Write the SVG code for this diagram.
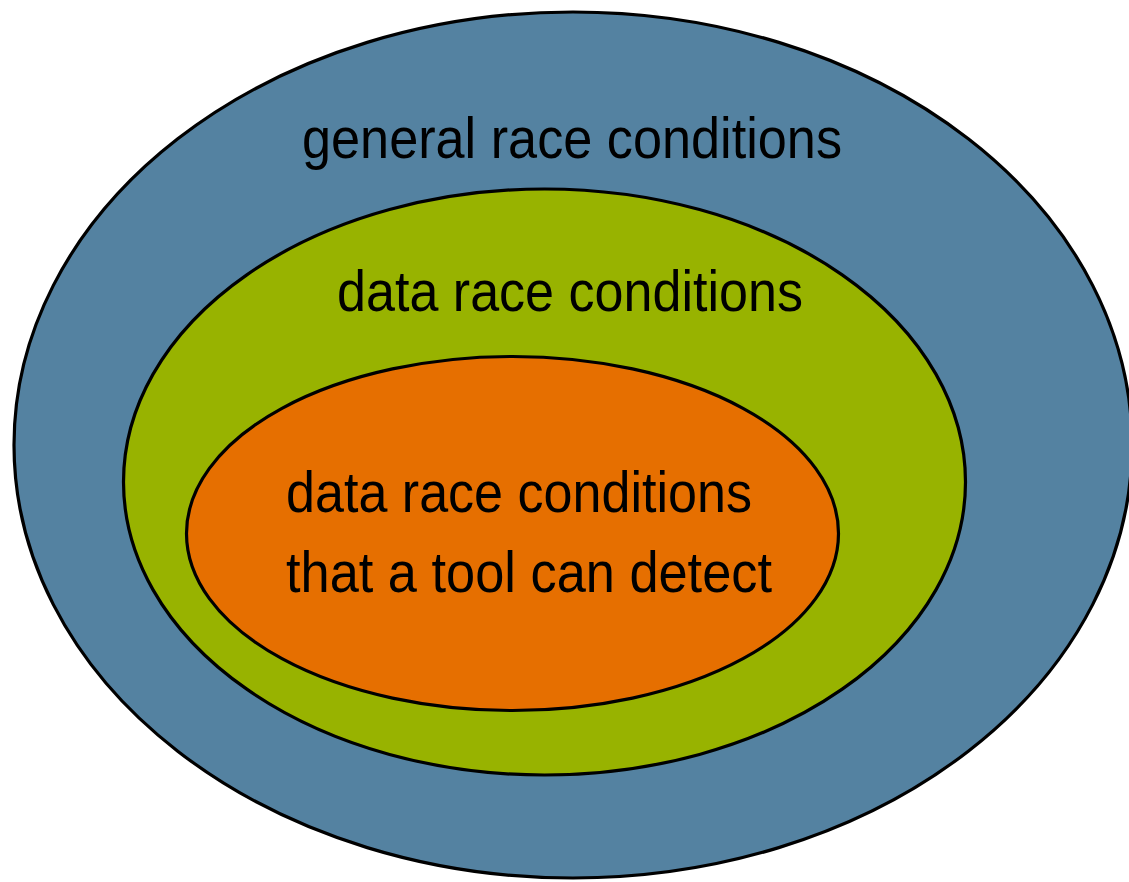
<svg xmlns="http://www.w3.org/2000/svg" width="1129" height="882" viewBox="0 0 1129 882">
  <style>
    .set { stroke: #000; stroke-width: 3.2; }
    .label { font-family: "Liberation Sans", Arial, sans-serif; font-size: 58px; fill: #000; }
  </style>
  <rect width="1129" height="882" fill="#fff"/>
  <g id="general-race">
    <ellipse class="set" cx="573" cy="445" rx="559" ry="433" fill="#5482A1"/>
    <text class="label" x="302" y="158" textLength="540" lengthAdjust="spacingAndGlyphs">general race conditions</text>
  </g>
  <g id="data-race">
    <ellipse class="set" cx="544.5" cy="482" rx="421" ry="293" fill="#98B300"/>
    <text class="label" x="337" y="311" textLength="466" lengthAdjust="spacingAndGlyphs">data race conditions</text>
  </g>
  <g id="detectable-race">
    <ellipse class="set" cx="512.5" cy="533.5" rx="326" ry="177" fill="#E66F00"/>
    <text class="label" x="286" y="512" textLength="466" lengthAdjust="spacingAndGlyphs">data race conditions</text>
    <text class="label" x="286" y="592" textLength="486" lengthAdjust="spacingAndGlyphs">that a tool can detect</text>
  </g>
  <g id="connectors"/>
</svg>
